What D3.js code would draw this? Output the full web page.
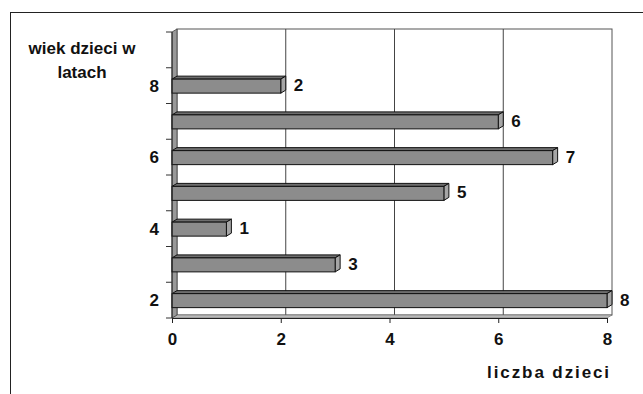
<!DOCTYPE html>
<head>
  <meta charset="utf-8">
  <script src="https://cdn.jsdelivr.net/npm/d3@7"></script>
  <style>
    body { margin: 0; background: #fff; font-family: Arial, "Liberation Sans", sans-serif; }
    svg { display: block; }
    .lbl { font-weight: bold; fill: #111; }
  </style>
</head>
<body>
  <div id="chart"></div>
  <script>

  // ages (bottom to top) and number of children
  var ages = [2, 3, 4, 5, 6, 7, 8, 9],
      counts = [8, 3, 1, 5, 7, 6, 2, null],
      shownAges = [2, 4, 6, 8],
      xTicks = [0, 2, 4, 6, 8];

  var W = 643, H = 394,
      dx = 5, dy = -3;   // depth of the 3D effect

  var svg = d3.select("#chart").append("svg")
      .attr("width", W)
      .attr("height", H);

  // outer frame
  svg.append("rect")
      .attr("x", 10.5).attr("y", 12.5)
      .attr("width", W).attr("height", H)
      .attr("fill", "none").attr("stroke", "#222").attr("stroke-width", 1);

  var x = d3.scaleLinear().domain([0, 8]).range([172, 607]);
  var y = d3.scaleBand().domain(ages).range([318, 32]);

  var yTop = y.range()[1], yBot = y.range()[0];

  // back wall
  svg.append("rect")
      .attr("x", x(0) + dx).attr("y", yTop + dy)
      .attr("width", x(8) - x(0)).attr("height", yBot - yTop)
      .attr("fill", "#fff").attr("stroke", "#555").attr("stroke-width", 1);

  // gridlines on the back wall
  svg.selectAll(".grid")
      .data(xTicks.slice(1, -1))
    .enter().append("line")
      .attr("x1", function(d) { return x(d) + dx; })
      .attr("x2", function(d) { return x(d) + dx; })
      .attr("y1", yTop + dy).attr("y2", yBot + dy)
      .attr("stroke", "#444").attr("stroke-width", 1);

  // floor
  svg.append("path")
      .attr("d", "M" + x(0) + "," + yBot + "L" + (x(0) + dx) + "," + (yBot + dy) +
                 "L" + (x(8) + dx) + "," + (yBot + dy) + "L" + x(8) + "," + yBot + "Z")
      .attr("fill", "#bbb").attr("stroke", "#777").attr("stroke-width", 0.7);

  // left side wall
  svg.append("path")
      .attr("d", "M" + x(0) + "," + yTop + "L" + (x(0) + dx) + "," + (yTop + dy) +
                 "L" + (x(0) + dx) + "," + (yBot + dy) + "L" + x(0) + "," + yBot + "Z")
      .attr("fill", "#999").attr("stroke", "#444").attr("stroke-width", 0.8);

  // bars
  var rows = ages.map(function(a, i) { return {age: a, v: counts[i]}; })
      .filter(function(d) { return d.v != null; });

  var h = 14;
  var bars = svg.selectAll(".bar")
      .data(rows)
    .enter().append("g")
      .attr("class", "bar")
      .attr("transform", function(d) { return "translate(0," + (y(d.age) + y.bandwidth() / 2 - h / 2 + 0.5) + ")"; });

  // top face
  bars.append("path")
      .attr("d", function(d) {
        return "M" + x(0) + ",0L" + (x(0) + dx) + "," + dy + "L" + (x(d.v) + dx) + "," + dy +
               "L" + x(d.v) + ",0Z";
      })
      .attr("fill", "#6e6e6e").attr("stroke", "#111").attr("stroke-width", 1);

  // end face
  bars.append("path")
      .attr("d", function(d) {
        return "M" + x(d.v) + ",0L" + (x(d.v) + dx) + "," + dy + "L" + (x(d.v) + dx) + "," + (h + dy) +
               "L" + x(d.v) + "," + h + "Z";
      })
      .attr("fill", "#a6a6a6").attr("stroke", "#111").attr("stroke-width", 1);

  // front face
  bars.append("rect")
      .attr("x", x(0)).attr("y", 0)
      .attr("width", function(d) { return x(d.v) - x(0); })
      .attr("height", h)
      .attr("fill", "#8c8c8c").attr("stroke", "#111").attr("stroke-width", 1);

  // value labels
  bars.append("text")
      .attr("class", "lbl")
      .attr("x", function(d) { return x(d.v) + dx + 8; })
      .attr("y", h / 2 - 1)
      .attr("dy", "0.35em")
      .style("font-size", "17px")
      .text(function(d) { return d.v; });

  // y axis
  var yAxis = svg.append("g")
      .attr("transform", "translate(" + x(0) + ",0)");
  yAxis.append("line")
      .attr("y1", yTop).attr("y2", yBot)
      .attr("stroke", "#222");
  yAxis.selectAll(".ytick")
      .data(ages.concat(["end"]))
    .enter().append("line")
      .attr("x1", -6).attr("x2", 0)
      .attr("y1", function(d, i) { return yBot - i * y.step(); })
      .attr("y2", function(d, i) { return yBot - i * y.step(); })
      .attr("stroke", "#333");
  yAxis.selectAll(".ylab")
      .data(shownAges)
    .enter().append("text")
      .attr("class", "lbl")
      .attr("x", -13)
      .attr("y", function(d) { return y(d) + y.bandwidth() / 2; })
      .attr("dy", "0.35em")
      .attr("text-anchor", "end")
      .style("font-size", "17px")
      .text(function(d) { return d; });

  // x axis
  var xAxis = svg.append("g")
      .attr("transform", "translate(0," + yBot + ")")
      .call(d3.axisBottom(x).tickValues(xTicks).tickSize(5).tickPadding(10));
  xAxis.select(".domain").attr("stroke", "#222");
  xAxis.selectAll(".tick line").attr("stroke", "#222");
  xAxis.selectAll("text")
      .attr("class", "lbl")
      .style("font-size", "17px")
      .style("font-family", "Arial, 'Liberation Sans', sans-serif");

  // axis titles
  var yt = svg.append("text")
      .attr("class", "lbl")
      .attr("text-anchor", "middle")
      .style("font-size", "17px");
  yt.append("tspan").attr("x", 82).attr("y", 54).text("wiek dzieci w");
  yt.append("tspan").attr("x", 82).attr("y", 78).text("latach");

  svg.append("text")
      .attr("class", "lbl")
      .attr("x", 611).attr("y", 378)
      .attr("text-anchor", "end")
      .style("font-size", "17px")
      .style("letter-spacing", "1.9px")
      .text("liczba dzieci");

  </script>
</body>
